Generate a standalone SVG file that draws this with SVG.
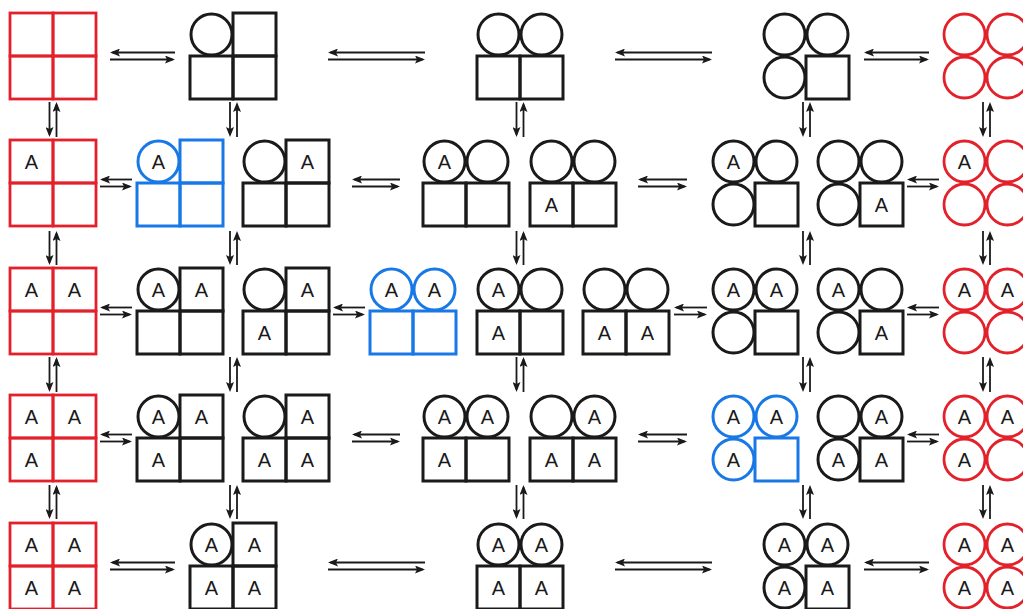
<svg xmlns="http://www.w3.org/2000/svg" width="1023" height="609" viewBox="0 0 1023 609">
  <style>
    .k { stroke: #1a1a1a; stroke-width: 3; fill: none; }
    .r { stroke: #e3212b; stroke-width: 2.8; fill: none; }
    .b { stroke: #1878e6; stroke-width: 3; fill: none; }
    text { font-family: "Liberation Sans", Arial, sans-serif; font-size: 20px; fill: #1a1a1a; stroke: none; text-anchor: middle; }
    #connectors line { stroke: #1a1a1a; stroke-width: 1.8; marker-end: url(#ah); }
  </style>
  <defs>
    <marker id="ah" viewBox="0 0 10 8" refX="7.5" refY="4" markerWidth="10" markerHeight="8" markerUnits="userSpaceOnUse" orient="auto">
      <path d="M0,0 L10,4 L0,8 L2,4 z" fill="#1a1a1a" stroke="none"/>
    </marker>
    <!-- 2x2 cell primitives, cell size 43 -->
    <rect id="sTL" x="0" y="0" width="43" height="43" fill="none"/>
    <rect id="sTR" x="43" y="0" width="43" height="43" fill="none"/>
    <rect id="sBL" x="0" y="43" width="43" height="43" fill="none"/>
    <rect id="sBR" x="43" y="43" width="43" height="43" fill="none"/>
    <circle id="cTL" cx="21.5" cy="21.5" r="20.5" fill="none"/>
    <circle id="cTR" cx="64.5" cy="21.5" r="20.5" fill="none"/>
    <circle id="cBL" cx="21.5" cy="64.5" r="20.5" fill="none"/>
    <circle id="cBR" cx="64.5" cy="64.5" r="20.5" fill="none"/>
  </defs>

  <rect x="0" y="0" width="1023" height="609" fill="#ffffff" stroke="none"/>

  <!-- ===== Row 1 ===== -->
  <g id="n11" class="r" transform="translate(10,13)">
    <use href="#sTL"/><use href="#sTR"/><use href="#sBL"/><use href="#sBR"/>
  </g>
  <g id="n12" class="k" transform="translate(190,13)">
    <use href="#cTL"/><use href="#sTR"/><use href="#sBL"/><use href="#sBR"/>
  </g>
  <g id="n13" class="k" transform="translate(477,13)">
    <use href="#cTL"/><use href="#cTR"/><use href="#sBL"/><use href="#sBR"/>
  </g>
  <g id="n14" class="k" transform="translate(763,13)">
    <use href="#cTL"/><use href="#cTR"/><use href="#cBL"/><use href="#sBR"/>
  </g>
  <g id="n15" class="r" transform="translate(943,13)">
    <use href="#cTL"/><use href="#cTR"/><use href="#cBL"/><use href="#cBR"/>
  </g>

  <!-- ===== Row 2 ===== -->
  <g id="n21" class="r" transform="translate(10,140)">
    <use href="#sTL"/><use href="#sTR"/><use href="#sBL"/><use href="#sBR"/>
    <text x="21.5" y="28.5">A</text>
  </g>
  <g id="n22a" class="b" transform="translate(137,140)">
    <use href="#cTL"/><use href="#sTR"/><use href="#sBL"/><use href="#sBR"/>
    <text x="21.5" y="28.5">A</text>
  </g>
  <g id="n22b" class="k" transform="translate(243,140)">
    <use href="#cTL"/><use href="#sTR"/><use href="#sBL"/><use href="#sBR"/>
    <text x="64.5" y="28.5">A</text>
  </g>
  <g id="n23a" class="k" transform="translate(423,140)">
    <use href="#cTL"/><use href="#cTR"/><use href="#sBL"/><use href="#sBR"/>
    <text x="21.5" y="28.5">A</text>
  </g>
  <g id="n23b" class="k" transform="translate(530,140)">
    <use href="#cTL"/><use href="#cTR"/><use href="#sBL"/><use href="#sBR"/>
    <text x="21.5" y="71.5">A</text>
  </g>
  <g id="n24a" class="k" transform="translate(712,140)">
    <use href="#cTL"/><use href="#cTR"/><use href="#cBL"/><use href="#sBR"/>
    <text x="21.5" y="28.5">A</text>
  </g>
  <g id="n24b" class="k" transform="translate(817,140)">
    <use href="#cTL"/><use href="#cTR"/><use href="#cBL"/><use href="#sBR"/>
    <text x="64.5" y="71.5">A</text>
  </g>
  <g id="n25" class="r" transform="translate(943,140)">
    <use href="#cTL"/><use href="#cTR"/><use href="#cBL"/><use href="#cBR"/>
    <text x="21.5" y="28.5">A</text>
  </g>

  <!-- ===== Row 3 ===== -->
  <g id="n31" class="r" transform="translate(10,268)">
    <use href="#sTL"/><use href="#sTR"/><use href="#sBL"/><use href="#sBR"/>
    <text x="21.5" y="28.5">A</text><text x="64.5" y="28.5">A</text>
  </g>
  <g id="n32a" class="k" transform="translate(137,268)">
    <use href="#cTL"/><use href="#sTR"/><use href="#sBL"/><use href="#sBR"/>
    <text x="21.5" y="28.5">A</text><text x="64.5" y="28.5">A</text>
  </g>
  <g id="n32b" class="k" transform="translate(243,268)">
    <use href="#cTL"/><use href="#sTR"/><use href="#sBL"/><use href="#sBR"/>
    <text x="64.5" y="28.5">A</text><text x="21.5" y="71.5">A</text>
  </g>
  <g id="n33a" class="b" transform="translate(370,268)">
    <use href="#cTL"/><use href="#cTR"/><use href="#sBL"/><use href="#sBR"/>
    <text x="21.5" y="28.5">A</text><text x="64.5" y="28.5">A</text>
  </g>
  <g id="n33b" class="k" transform="translate(477,268)">
    <use href="#cTL"/><use href="#cTR"/><use href="#sBL"/><use href="#sBR"/>
    <text x="21.5" y="28.5">A</text><text x="21.5" y="71.5">A</text>
  </g>
  <g id="n33c" class="k" transform="translate(583,268)">
    <use href="#cTL"/><use href="#cTR"/><use href="#sBL"/><use href="#sBR"/>
    <text x="21.5" y="71.5">A</text><text x="64.5" y="71.5">A</text>
  </g>
  <g id="n34a" class="k" transform="translate(712,268)">
    <use href="#cTL"/><use href="#cTR"/><use href="#cBL"/><use href="#sBR"/>
    <text x="21.5" y="28.5">A</text><text x="64.5" y="28.5">A</text>
  </g>
  <g id="n34b" class="k" transform="translate(817,268)">
    <use href="#cTL"/><use href="#cTR"/><use href="#cBL"/><use href="#sBR"/>
    <text x="21.5" y="28.5">A</text><text x="64.5" y="71.5">A</text>
  </g>
  <g id="n35" class="r" transform="translate(943,268)">
    <use href="#cTL"/><use href="#cTR"/><use href="#cBL"/><use href="#cBR"/>
    <text x="21.5" y="28.5">A</text><text x="64.5" y="28.5">A</text>
  </g>

  <!-- ===== Row 4 ===== -->
  <g id="n41" class="r" transform="translate(10,395)">
    <use href="#sTL"/><use href="#sTR"/><use href="#sBL"/><use href="#sBR"/>
    <text x="21.5" y="28.5">A</text><text x="64.5" y="28.5">A</text><text x="21.5" y="71.5">A</text>
  </g>
  <g id="n42a" class="k" transform="translate(137,395)">
    <use href="#cTL"/><use href="#sTR"/><use href="#sBL"/><use href="#sBR"/>
    <text x="21.5" y="28.5">A</text><text x="64.5" y="28.5">A</text><text x="21.5" y="71.5">A</text>
  </g>
  <g id="n42b" class="k" transform="translate(243,395)">
    <use href="#cTL"/><use href="#sTR"/><use href="#sBL"/><use href="#sBR"/>
    <text x="64.5" y="28.5">A</text><text x="21.5" y="71.5">A</text><text x="64.5" y="71.5">A</text>
  </g>
  <g id="n43a" class="k" transform="translate(423,395)">
    <use href="#cTL"/><use href="#cTR"/><use href="#sBL"/><use href="#sBR"/>
    <text x="21.5" y="28.5">A</text><text x="64.5" y="28.5">A</text><text x="21.5" y="71.5">A</text>
  </g>
  <g id="n43b" class="k" transform="translate(530,395)">
    <use href="#cTL"/><use href="#cTR"/><use href="#sBL"/><use href="#sBR"/>
    <text x="64.5" y="28.5">A</text><text x="21.5" y="71.5">A</text><text x="64.5" y="71.5">A</text>
  </g>
  <g id="n44a" class="b" transform="translate(712,395)">
    <use href="#cTL"/><use href="#cTR"/><use href="#cBL"/><use href="#sBR"/>
    <text x="21.5" y="28.5">A</text><text x="64.5" y="28.5">A</text><text x="21.5" y="71.5">A</text>
  </g>
  <g id="n44b" class="k" transform="translate(817,395)">
    <use href="#cTL"/><use href="#cTR"/><use href="#cBL"/><use href="#sBR"/>
    <text x="64.5" y="28.5">A</text><text x="21.5" y="71.5">A</text><text x="64.5" y="71.5">A</text>
  </g>
  <g id="n45" class="r" transform="translate(943,395)">
    <use href="#cTL"/><use href="#cTR"/><use href="#cBL"/><use href="#cBR"/>
    <text x="21.5" y="28.5">A</text><text x="64.5" y="28.5">A</text><text x="21.5" y="71.5">A</text>
  </g>

  <!-- ===== Row 5 ===== -->
  <g id="n51" class="r" transform="translate(10,523)">
    <use href="#sTL"/><use href="#sTR"/><use href="#sBL"/><use href="#sBR"/>
    <text x="21.5" y="28.5">A</text><text x="64.5" y="28.5">A</text><text x="21.5" y="71.5">A</text><text x="64.5" y="71.5">A</text>
  </g>
  <g id="n52" class="k" transform="translate(190,523)">
    <use href="#cTL"/><use href="#sTR"/><use href="#sBL"/><use href="#sBR"/>
    <text x="21.5" y="28.5">A</text><text x="64.5" y="28.5">A</text><text x="21.5" y="71.5">A</text><text x="64.5" y="71.5">A</text>
  </g>
  <g id="n53" class="k" transform="translate(477,523)">
    <use href="#cTL"/><use href="#cTR"/><use href="#sBL"/><use href="#sBR"/>
    <text x="21.5" y="28.5">A</text><text x="64.5" y="28.5">A</text><text x="21.5" y="71.5">A</text><text x="64.5" y="71.5">A</text>
  </g>
  <g id="n54" class="k" transform="translate(763,523)">
    <use href="#cTL"/><use href="#cTR"/><use href="#cBL"/><use href="#sBR"/>
    <text x="21.5" y="28.5">A</text><text x="64.5" y="28.5">A</text><text x="21.5" y="71.5">A</text><text x="64.5" y="71.5">A</text>
  </g>
  <g id="n55" class="r" transform="translate(943,523)">
    <use href="#cTL"/><use href="#cTR"/><use href="#cBL"/><use href="#cBR"/>
    <text x="21.5" y="28.5">A</text><text x="64.5" y="28.5">A</text><text x="21.5" y="71.5">A</text><text x="64.5" y="71.5">A</text>
  </g>

  <!-- ===== Equilibrium arrows ===== -->
  <g id="connectors">
    <!-- horizontal, row 1 -->
    <line x1="175" y1="52.5" x2="112.5" y2="52.5"/><line x1="110" y1="59.5" x2="172.5" y2="59.5"/>
    <line x1="425" y1="52.5" x2="330.5" y2="52.5"/><line x1="328" y1="59.5" x2="422.5" y2="59.5"/>
    <line x1="712" y1="52.5" x2="617.5" y2="52.5"/><line x1="615" y1="59.5" x2="709.5" y2="59.5"/>
    <line x1="929" y1="52.5" x2="866.5" y2="52.5"/><line x1="864" y1="59.5" x2="926.5" y2="59.5"/>
    <!-- horizontal, row 2 -->
    <line x1="132" y1="179.5" x2="102.5" y2="179.5"/><line x1="100" y1="186.5" x2="129.5" y2="186.5"/>
    <line x1="400" y1="179.5" x2="354.5" y2="179.5"/><line x1="352" y1="186.5" x2="397.5" y2="186.5"/>
    <line x1="687" y1="179.5" x2="640.5" y2="179.5"/><line x1="638" y1="186.5" x2="684.5" y2="186.5"/>
    <line x1="939" y1="179.5" x2="909.5" y2="179.5"/><line x1="907" y1="186.5" x2="936.5" y2="186.5"/>
    <!-- horizontal, row 3 -->
    <line x1="132" y1="307.5" x2="102.5" y2="307.5"/><line x1="100" y1="314.5" x2="129.5" y2="314.5"/>
    <line x1="365" y1="307.5" x2="335.5" y2="307.5"/><line x1="333" y1="314.5" x2="362.5" y2="314.5"/>
    <line x1="707" y1="307.5" x2="676.5" y2="307.5"/><line x1="674" y1="314.5" x2="704.5" y2="314.5"/>
    <line x1="939" y1="307.5" x2="909.5" y2="307.5"/><line x1="907" y1="314.5" x2="936.5" y2="314.5"/>
    <!-- horizontal, row 4 -->
    <line x1="132" y1="434.5" x2="102.5" y2="434.5"/><line x1="100" y1="441.5" x2="129.5" y2="441.5"/>
    <line x1="400" y1="434.5" x2="354.5" y2="434.5"/><line x1="352" y1="441.5" x2="397.5" y2="441.5"/>
    <line x1="687" y1="434.5" x2="640.5" y2="434.5"/><line x1="638" y1="441.5" x2="684.5" y2="441.5"/>
    <line x1="939" y1="434.5" x2="909.5" y2="434.5"/><line x1="907" y1="441.5" x2="936.5" y2="441.5"/>
    <!-- horizontal, row 5 -->
    <line x1="175" y1="562.5" x2="112.5" y2="562.5"/><line x1="110" y1="569.5" x2="172.5" y2="569.5"/>
    <line x1="425" y1="562.5" x2="330.5" y2="562.5"/><line x1="328" y1="569.5" x2="422.5" y2="569.5"/>
    <line x1="712" y1="562.5" x2="617.5" y2="562.5"/><line x1="615" y1="569.5" x2="709.5" y2="569.5"/>
    <line x1="929" y1="562.5" x2="866.5" y2="562.5"/><line x1="864" y1="569.5" x2="926.5" y2="569.5"/>

    <!-- vertical, rows 1-2 -->
    <line x1="49.5" y1="102" x2="49.5" y2="134.5"/><line x1="56.5" y1="137" x2="56.5" y2="104.5"/>
    <line x1="230" y1="102" x2="230" y2="134.5"/><line x1="237" y1="137" x2="237" y2="104.5"/>
    <line x1="516.5" y1="102" x2="516.5" y2="134.5"/><line x1="523.5" y1="137" x2="523.5" y2="104.5"/>
    <line x1="803" y1="102" x2="803" y2="134.5"/><line x1="810" y1="137" x2="810" y2="104.5"/>
    <line x1="983" y1="102" x2="983" y2="134.5"/><line x1="990" y1="137" x2="990" y2="104.5"/>
    <!-- vertical, rows 2-3 -->
    <line x1="49.5" y1="231" x2="49.5" y2="262.5"/><line x1="56.5" y1="265" x2="56.5" y2="233.5"/>
    <line x1="230" y1="231" x2="230" y2="262.5"/><line x1="237" y1="265" x2="237" y2="233.5"/>
    <line x1="516.5" y1="231" x2="516.5" y2="262.5"/><line x1="523.5" y1="265" x2="523.5" y2="233.5"/>
    <line x1="803" y1="231" x2="803" y2="262.5"/><line x1="810" y1="265" x2="810" y2="233.5"/>
    <line x1="983" y1="231" x2="983" y2="262.5"/><line x1="990" y1="265" x2="990" y2="233.5"/>
    <!-- vertical, rows 3-4 -->
    <line x1="49.5" y1="357" x2="49.5" y2="389.5"/><line x1="56.5" y1="392" x2="56.5" y2="359.5"/>
    <line x1="230" y1="357" x2="230" y2="389.5"/><line x1="237" y1="392" x2="237" y2="359.5"/>
    <line x1="516.5" y1="357" x2="516.5" y2="389.5"/><line x1="523.5" y1="392" x2="523.5" y2="359.5"/>
    <line x1="803" y1="357" x2="803" y2="389.5"/><line x1="810" y1="392" x2="810" y2="359.5"/>
    <line x1="983" y1="357" x2="983" y2="389.5"/><line x1="990" y1="392" x2="990" y2="359.5"/>
    <!-- vertical, rows 4-5 -->
    <line x1="49.5" y1="485" x2="49.5" y2="516.5"/><line x1="56.5" y1="519" x2="56.5" y2="487.5"/>
    <line x1="230" y1="485" x2="230" y2="516.5"/><line x1="237" y1="519" x2="237" y2="487.5"/>
    <line x1="516.5" y1="485" x2="516.5" y2="516.5"/><line x1="523.5" y1="519" x2="523.5" y2="487.5"/>
    <line x1="803" y1="485" x2="803" y2="516.5"/><line x1="810" y1="519" x2="810" y2="487.5"/>
    <line x1="983" y1="485" x2="983" y2="516.5"/><line x1="990" y1="519" x2="990" y2="487.5"/>
  </g>
</svg>
